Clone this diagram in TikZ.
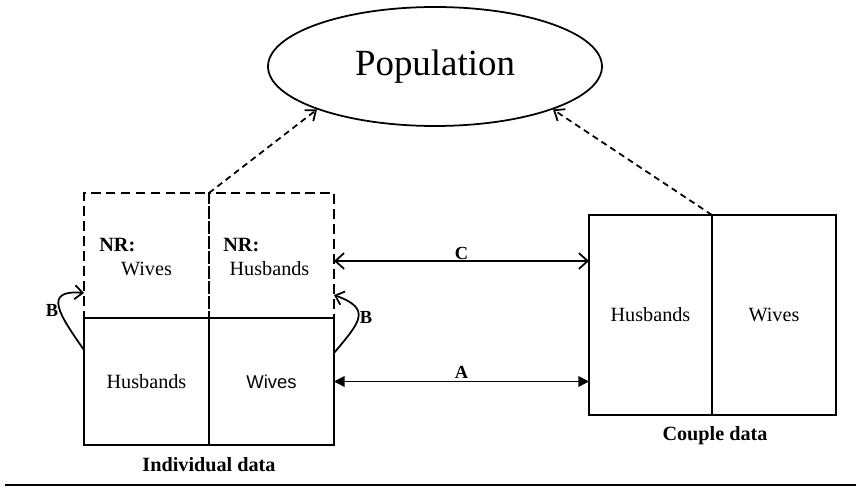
\documentclass[tikz,border=0pt]{standalone}
\usepackage{fontspec}
\setmainfont{Liberation Serif}
\newfontfamily\arialfont{Liberation Sans}
\usetikzlibrary{shapes.geometric,arrows.meta,positioning}

\newcommand{\cellfont}{\fontsize{11.5}{14}\selectfont}
\newcommand{\tagfont}{\fontsize{10.5}{12}\selectfont\bfseries}

\begin{document}
\begin{tikzpicture}[
    every node/.style={font=\cellfont},
    cell/.style={draw, line width=1.1pt, outer sep=0pt, inner sep=0pt,
        minimum width=2.5cm, minimum height=2.5cm},
    nrcell/.style={cell, dash pattern=on 5.5pt off 3pt},
    link/.style={line width=1pt},
    towards/.style={link, dash pattern=on 3.5pt off 2.5pt,
        -{Straight Barb[length=5pt,width=8pt]}},
    loopback/.style={link, -{Straight Barb[length=4.5pt,width=8pt]}}
]
    \useasboundingbox (0,0) rectangle (17.22,9.84);

    % Population
    \node[draw, ellipse, line width=1pt, inner sep=0pt, minimum width=6.68cm,
        minimum height=2.38cm, font=\fontsize{21}{25}\selectfont] (pop) at (8.70,8.51) {Population};

    % Individual data: non-response cells first, observed cells on top
    \node[nrcell] (nrw) at (2.93,4.73) {};
    \node[nrcell, right=0pt of nrw] (nrh) {};
    \node[cell, minimum height=2.54cm, below=0pt of nrw] (lh) {Husbands};
    \node[cell, minimum height=2.54cm, right=0pt of lh, font=\arialfont\fontsize{10.5}{13}\selectfont] (lw) {Wives};

    \node[inner sep=0pt, anchor=west, font=\cellfont\bfseries] (nrwtag) at ([xshift=0.3cm,yshift=0.21cm]nrw.west) {NR:};
    \node[inner sep=0pt] (nrwtext) at ([yshift=-0.27cm]nrw.center) {Wives};
    \node[inner sep=0pt, anchor=west, font=\cellfont\bfseries] (nrhtag) at ([xshift=0.28cm,yshift=0.21cm]nrh.west) {NR:};
    \node[inner sep=0pt] (nrhtext) at ([xshift=-0.04cm,yshift=-0.27cm]nrh.center) {Husbands};

    \node[font=\cellfont\bfseries] (inddata) at ([yshift=-0.4cm]lh.south east) {Individual data};

    % Couple data
    \node[cell, minimum width=2.46cm, minimum height=4cm] (ch) at (13.01,3.54) {Husbands};
    \node[cell, minimum width=2.48cm, minimum height=4cm, right=0pt of ch] (cw) {Wives};
    \node[font=\cellfont\bfseries] (coupdata) at ([xshift=0.06cm,yshift=-0.42cm]ch.south east) {Couple data};

    % links to the population
    \draw[towards] (nrw.north east) -- (pop.200);
    \draw[towards] (ch.north east) -- (pop.340);

    % C and A
    \coordinate (cstart) at ([yshift=-0.11cm]nrh.east);
    \draw[link, {Straight Barb[length=5pt,width=9pt]}-{Straight Barb[length=5pt,width=9pt]}]
        (cstart) -- (cstart -| ch.west) node[midway, above, inner sep=0.5pt, font=\tagfont] (clabel) {C};
    \draw[link, {Triangle[length=6pt,width=6pt]}-{Triangle[length=6pt,width=6pt]}]
        (lw.east) -- (lw.east -| ch.west) node[midway, above, inner sep=1pt, font=\tagfont] (alabel) {A};

    % B loops
    \draw[loopback] ([yshift=0.63cm]lh.west) to[out=125, in=175, looseness=1.9]
        node[pos=0.45, left, inner sep=0.5pt, font=\tagfont] (bleft) {B} ([yshift=-0.75cm]nrw.west);
    \draw[loopback] ([yshift=0.57cm]lw.east) to[out=50, in=-20, looseness=1.8]
        node[pos=0.5, right, inner sep=0.5pt, font=\tagfont] (bright) {B} ([yshift=-0.79cm]nrh.east);

    % rule under the figure
    \draw[line width=1pt] (0.10,0.14) -- (17.12,0.14);
\end{tikzpicture}
\end{document}
